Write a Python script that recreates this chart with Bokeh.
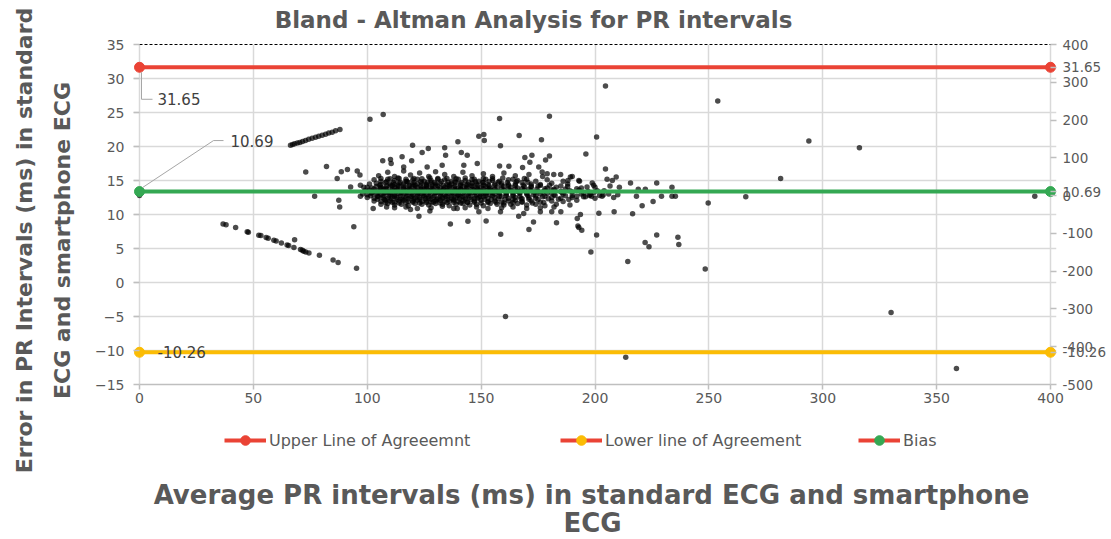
import math
from bokeh.plotting import figure
from bokeh.layouts import row, column
from bokeh.models import (Range1d, LinearAxis, SingleIntervalTicker, FixedTicker,
                          Label, Legend, LegendItem)
from bokeh.embed import file_html
from bokeh.resources import INLINE

# ---------------- data ----------------
chart_title = "Bland - Altman Analysis for PR intervals"
x_title_lines = ["Average PR intervals (ms) in standard ECG and smartphone", "ECG"]
y_title_lines = ["Error in PR Intervals (ms) in standard", "ECG and smartphone ECG"]
legend_labels = ["Upper Line of Agreeemnt", "Lower line of Agreement", "Bias"]

line_x = [0, 400]
upper_y = [31.65, 31.65]
lower_y = [-10.26, -10.26]
bias_y = [10.69, 10.69]          # plotted on the secondary (right) axis

right_ticks = [-500, -400, -300, -200, -100, 0, 100, 200, 300, 400]

# dense core of the scatter (rows)
core_x = [
    105, 109, 112, 116, 119, 123, 127, 130, 134, 138, 142, 146, 151, 155, 160, 165, 171, 177,
    103, 106, 109, 112, 114, 117, 120, 122, 125, 128, 131, 134, 137, 140, 143, 146, 149, 152, 155, 158, 162, 166, 170, 174, 179, 186,
    101, 104, 106, 108, 110, 112, 114, 116, 118, 120, 122, 124, 126, 128, 130, 132, 135, 137, 139, 141, 144, 146, 148, 151, 153, 156, 159, 162, 165, 168, 172, 176, 181, 188,
    100, 102, 104, 106, 108, 110, 112, 114, 116, 118, 120, 122, 124, 126, 128, 130, 132, 134, 136, 138, 140, 142, 144, 146, 148, 150, 152, 154, 157, 160, 163, 166, 169, 172, 175, 179, 183, 188, 194, 200,
    99, 101, 103, 105, 107, 109, 111, 113, 115, 117, 119, 121, 123, 125, 127, 129, 131, 133, 135, 137, 139, 141, 143, 145, 147, 149, 151, 153, 155, 157, 160, 163, 166, 169, 172, 175, 178, 181, 185, 189, 193, 197, 201, 204,
    98, 100, 102, 104, 106, 108, 110, 112, 114, 116, 118, 120, 122, 124, 126, 128, 130, 132, 134, 136, 138, 140, 142, 144, 146, 148, 150, 152, 154, 156, 158, 161, 164, 167, 170, 173, 176, 179, 182, 186, 190, 194, 198, 202, 206, 210,
    100, 103, 105, 107, 109, 111, 113, 115, 117, 119, 121, 123, 125, 127, 129, 131, 133, 135, 137, 139, 141, 143, 145, 147, 149, 151, 153, 156, 159, 162, 165, 168, 171, 174, 177, 181, 185, 190, 195, 200,
    103, 106, 108, 110, 112, 114, 116, 118, 120, 122, 124, 126, 128, 130, 132, 134, 136, 138, 140, 142, 144, 147, 150, 153, 156, 159, 162, 165, 168, 172, 176, 181, 186, 192,
    106, 109, 112, 115, 118, 121, 124, 127, 130, 133, 136, 139, 142, 145, 148, 151, 154, 157, 160, 163, 166, 170, 174, 178, 183, 189,
    112, 117, 122, 128, 133, 138, 143, 148, 153, 159, 164, 170, 176, 182,
]
core_y = [
    15.7, 16.2, 15.6, 16.4, 15.8, 16.1, 15.6, 16.3, 15.9, 15.6, 16.2, 15.7, 16.0, 15.6, 16.1, 15.7, 15.9, 15.6,
    15.1, 14.9, 15.2, 15.0, 15.3, 14.9, 15.1, 15.2, 14.9, 15.0, 15.3, 15.1, 14.9, 15.2, 15.0, 15.1, 14.9, 15.2, 15.0, 14.9, 15.1, 15.0, 15.2, 14.9, 15.1, 14.9,
    14.5, 14.6, 14.4, 14.7, 14.5, 14.4, 14.6, 14.5, 14.7, 14.4, 14.5, 14.6, 14.4, 14.7, 14.5, 14.6, 14.4, 14.5, 14.7, 14.5, 14.4, 14.6, 14.5, 14.7, 14.4, 14.5, 14.6, 14.4, 14.5, 14.7, 14.5, 14.4, 14.6, 14.5,
    14.0, 13.9, 14.1, 14.0, 13.9, 14.2, 14.0, 14.1, 13.9, 14.0, 14.2, 14.0, 13.9, 14.1, 14.0, 14.2, 13.9, 14.0, 14.1, 14.0, 13.9, 14.1, 14.0, 14.2, 13.9, 14.0, 14.1, 13.9, 14.0, 14.1, 14.0, 13.9, 14.1, 14.0, 14.2, 13.9, 14.0, 14.1, 13.9, 14.0,
    13.5, 13.6, 13.4, 13.5, 13.7, 13.4, 13.5, 13.6, 13.4, 13.5, 13.6, 13.5, 13.4, 13.7, 13.5, 13.6, 13.4, 13.5, 13.6, 13.4, 13.5, 13.7, 13.5, 13.4, 13.6, 13.5, 13.4, 13.6, 13.5, 13.4, 13.6, 13.5, 13.4, 13.6, 13.5, 13.4, 13.5, 13.6, 13.4, 13.5, 13.6, 13.4, 13.5, 13.5,
    13.0, 12.9, 13.1, 13.0, 12.9, 13.2, 13.0, 12.9, 13.1, 13.0, 13.2, 12.9, 13.0, 13.1, 12.9, 13.0, 13.2, 13.0, 12.9, 13.1, 13.0, 12.9, 13.1, 13.0, 13.2, 12.9, 13.0, 13.1, 12.9, 13.0, 13.1, 13.0, 12.9, 13.1, 13.0, 12.9, 13.0, 13.1, 12.9, 13.0, 12.8, 13.0, 12.9, 12.8, 13.0, 12.9,
    12.5, 12.4, 12.6, 12.5, 12.4, 12.6, 12.5, 12.3, 12.5, 12.6, 12.4, 12.5, 12.6, 12.4, 12.5, 12.3, 12.5, 12.6, 12.4, 12.5, 12.6, 12.4, 12.5, 12.3, 12.5, 12.6, 12.4, 12.5, 12.6, 12.4, 12.5, 12.3, 12.5, 12.4, 12.6, 12.5, 12.4, 12.5, 12.6, 12.4,
    12.0, 11.9, 12.1, 12.0, 11.8, 12.0, 12.1, 11.9, 12.0, 12.1, 11.9, 12.0, 11.8, 12.0, 12.1, 11.9, 12.0, 12.1, 11.9, 12.0, 11.8, 12.0, 12.1, 11.9, 12.0, 11.8, 12.0, 12.1, 11.9, 12.0, 11.8, 12.0, 11.9, 12.1,
    11.5, 11.6, 11.4, 11.5, 11.3, 11.6, 11.5, 11.4, 11.6, 11.5, 11.3, 11.5, 11.6, 11.4, 11.5, 11.3, 11.6, 11.5, 11.4, 11.5, 11.6, 11.4, 11.5, 11.3, 11.5, 11.4,
    11.0, 11.1, 10.9, 11.0, 11.2, 10.9, 11.0, 11.1, 10.9, 11.0, 11.1, 10.9, 11.0, 11.1,
]

# extra points filling the darkest part of the cloud
core_fill_pts = [
    (106, 15.3), (110, 15.25), (113.5, 15.35), (117, 15.2), (120.5, 15.3), (124, 15.25), (127.5, 15.35),
    (131, 15.2), (135, 15.3), (139, 15.25), (143, 15.35), (147, 15.2), (151, 15.3), (155, 15.25),
    (159.5, 15.35), (164, 15.2), (169, 15.3),
    (108.5, 14.8), (111.5, 14.7), (114.5, 14.75), (117.5, 14.85), (120.5, 14.7), (123.5, 14.8), (126.5, 14.75),
    (129.5, 14.7), (132.5, 14.85), (135.5, 14.75), (138.5, 14.8), (141.5, 14.7), (144.5, 14.75), (147.5, 14.8),
    (150.5, 14.7), (153.5, 14.85), (157.5, 14.75), (161.5, 14.7), (165.5, 14.8), (170.5, 14.75),
    (105.5, 14.3), (108.5, 14.2), (111, 14.25), (113.5, 14.3), (116, 14.2), (118.5, 14.25), (121, 14.3),
    (123.5, 14.2), (126, 14.25), (128.5, 14.3), (131, 14.2), (133.5, 14.25), (136, 14.3), (138.5, 14.2),
    (141, 14.25), (143.5, 14.3), (146, 14.2), (148.5, 14.25), (151, 14.3), (153.5, 14.2), (156, 14.25),
    (159, 14.3), (162, 14.2), (165, 14.25), (168.5, 14.3), (172, 14.2), (176, 14.25), (180, 14.3), (185, 14.2),
    (103, 13.75), (106, 13.8), (108.5, 13.7), (111, 13.75), (113.5, 13.8), (116, 13.7), (118.5, 13.75),
    (121, 13.8), (123.5, 13.7), (126, 13.75), (128.5, 13.8), (131, 13.7), (133.5, 13.75), (136, 13.8),
    (138.5, 13.7), (141, 13.75), (143.5, 13.8), (146, 13.7), (148.5, 13.75), (151, 13.8), (153.5, 13.7),
    (156, 13.75), (159, 13.8), (162, 13.7), (165, 13.75), (168, 13.8), (171, 13.7), (174.5, 13.75),
    (178, 13.8), (182, 13.7), (187, 13.75), (192, 13.8),
    (102, 13.25), (105, 13.3), (107.5, 13.2), (110, 13.25), (112.5, 13.3), (115, 13.2), (117.5, 13.25),
    (120, 13.3), (122.5, 13.2), (125, 13.25), (127.5, 13.3), (130, 13.2), (132.5, 13.25), (135, 13.3),
    (137.5, 13.2), (140, 13.25), (142.5, 13.3), (145, 13.2), (147.5, 13.25), (150, 13.3), (152.5, 13.2),
    (155, 13.25), (158, 13.3), (161, 13.2), (164, 13.25), (167, 13.3), (170, 13.2), (173.5, 13.25),
    (177, 13.3), (181, 13.2), (185.5, 13.25), (190, 13.3), (195, 13.2), (199.5, 13.25),
    (101.5, 12.75), (104.5, 12.7), (107, 12.8), (109.5, 12.75), (112, 12.7), (114.5, 12.8), (117, 12.75),
    (119.5, 12.7), (122, 12.8), (124.5, 12.75), (127, 12.7), (129.5, 12.8), (132, 12.75), (134.5, 12.7),
    (137, 12.8), (139.5, 12.75), (142, 12.7), (144.5, 12.8), (147, 12.75), (149.5, 12.7), (152, 12.8),
    (155, 12.75), (158, 12.7), (161, 12.8), (164, 12.75), (167, 12.7), (170.5, 12.8), (174, 12.75),
    (178, 12.7), (182.5, 12.8), (187, 12.75), (192, 12.7), (197.5, 12.8),
    (104.5, 12.25), (107.5, 12.2), (110.5, 12.3), (113, 12.25), (115.5, 12.2), (118, 12.3), (120.5, 12.25),
    (123, 12.2), (125.5, 12.3), (128, 12.25), (130.5, 12.2), (133, 12.3), (135.5, 12.25), (138, 12.2),
    (140.5, 12.3), (143, 12.25), (145.5, 12.2), (148.5, 12.3), (151.5, 12.25), (154.5, 12.2), (157.5, 12.3),
    (160.5, 12.25), (164, 12.2), (167.5, 12.3), (171, 12.25), (175, 12.2), (179.5, 12.3), (184, 12.25),
    (188.5, 12.2),
    (108, 11.75), (111, 11.8), (114, 11.7), (117, 11.75), (120, 11.8), (123, 11.7), (126, 11.75),
    (129, 11.8), (132, 11.7), (135, 11.75), (138, 11.8), (141, 11.7), (144, 11.75), (147, 11.8),
    (150, 11.7), (153, 11.75), (156.5, 11.8), (160, 11.7), (164, 11.75), (168, 11.8), (172.5, 11.7),
    (177.5, 11.75),
]

# scattered points around the core
outlier_pts = [
    (0, 12.8),
    (73.0, 16.25), (82.1, 17.05), (76.9, 12.7), (86.8, 15.3), (88.6, 16.3), (91.3, 16.6),
    (95.6, 16.4), (96.8, 15.8), (92.7, 14.05), (87.5, 12.1), (87.9, 11.1), (98.5, 14.0),
    (97.0, 12.7), (102.6, 10.9), (108.5, 11.1), (94.1, 8.2), (95.3, 2.1), (97.0, 14.3),
    (101.2, 24.0), (107.0, 24.7), (158.1, 24.1), (180.0, 24.45), (204.6, 28.9),
    (149.0, 21.5), (151.2, 21.75), (151.4, 20.9), (166.7, 21.6), (176.5, 21.0), (200.7, 21.4),
    (119.9, 20.2), (139.8, 20.7), (158.5, 20.1), (126.8, 19.7), (134.0, 19.8), (196.0, 18.9),
    (124.1, 19.1), (141.3, 19.1), (143.9, 18.7), (134.4, 18.7), (115.3, 18.5),
    (180.0, 18.6), (178.3, 18.0), (172.3, 18.7), (171.4, 17.7), (169.2, 18.4), (168.2, 16.9),
    (106.8, 17.9), (110.2, 18.1), (119.5, 17.9), (110.5, 17.5), (116.0, 17.0), (126.3, 17.0),
    (132.9, 17.25), (142.4, 17.25), (148.3, 17.5), (158.1, 17.15), (162.2, 17.1), (175.3, 17.0),
    (176.8, 16.25), (179.0, 16.0), (181.9, 15.9), (184.9, 15.9), (189.2, 15.5), (190.0, 15.6),
    (188.1, 15.0), (192.9, 15.0), (193.2, 14.9), (198.8, 14.65), (196.5, 14.05), (199.4, 14.3),
    (204.6, 16.7), (205.3, 15.2), (209.3, 15.5), (207.6, 15.0), (215.6, 14.65), (227.1, 14.65),
    (233.8, 14.0), (219.0, 13.7), (222.1, 13.7), (210.7, 14.0), (206.6, 14.2),
    (229.2, 12.7), (233.8, 12.7), (235.3, 12.7), (218.2, 12.7), (208.2, 12.5), (203.6, 12.85),
    (195.8, 12.6), (198.5, 12.7), (203.1, 12.7), (266.2, 12.6), (249.7, 11.7), (225.5, 11.9),
    (220.7, 11.3), (208.4, 10.4), (216.5, 10.1), (201.7, 10.2), (193.6, 10.0), (192.2, 9.4),
    (192.5, 8.3), (194.2, 7.7), (200.7, 7.0), (227.1, 7.0), (236.4, 6.65), (236.8, 5.6),
    (222.0, 5.9), (223.7, 5.25), (198.2, 4.5), (214.4, 3.1), (248.4, 2.0), (213.5, -11.0),
    (158.6, 7.1), (171.0, 7.8), (173.0, 8.9), (136.5, 8.6), (144.2, 9.0), (152.2, 9.05),
    (122.7, 9.75), (119.0, 10.75), (127.5, 10.5), (139.5, 10.9), (149.0, 10.4), (158.5, 10.4),
    (166.5, 9.75), (168.7, 10.15), (176.0, 10.4), (181.0, 10.4), (185.0, 10.4), (183.1, 8.8),
    (192.9, 8.1),
    (253.9, 26.7), (293.9, 20.8), (316.1, 19.8), (281.5, 15.3), (160.7, -5.0), (330.0, -4.4),
    (358.7, -12.65), (393.1, 12.7),
]

# two diagonal streaks on the left
upper_streak_x = [66.3, 67.2, 68.1, 69.3, 70.4, 71.6, 72.9, 74.3, 75.8, 77.3, 78.7, 80.2, 81.7, 83.1, 84.6, 86.1, 88.0]
upper_streak_y = [20.2, 20.3, 20.4, 20.5, 20.6, 20.75, 20.9, 21.05, 21.2, 21.35, 21.5, 21.65, 21.8, 22.0, 22.1, 22.3, 22.5]
lower_streak_x = [36.7, 38.0, 42.2, 47.3, 47.8, 52.4, 53.3, 55.6, 56.5, 59.0, 60.0, 62.3, 64.8, 65.5, 67.8, 68.1, 70.7, 71.5, 72.1, 73.0, 74.4, 79.0, 85.0, 87.2]
lower_streak_y = [8.6, 8.5, 8.1, 7.45, 7.4, 6.95, 6.9, 6.6, 6.5, 6.2, 6.1, 5.8, 5.5, 5.45, 5.15, 6.3, 4.85, 4.75, 4.6, 4.5, 4.35, 4.0, 3.3, 2.95]

scatter_x = (core_x + [q[0] for q in core_fill_pts] + [q[0] for q in outlier_pts]
             + upper_streak_x + lower_streak_x)
scatter_y = (core_y + [q[1] for q in core_fill_pts] + [q[1] for q in outlier_pts]
             + upper_streak_y + lower_streak_y)
assert len(scatter_x) == len(scatter_y)

# ---------------- style / layout ----------------
FONT = "DejaVu Sans"
TXT = "#595959"
LBL = "#404040"
AXC = "#bfbfbf"
GRID = "#d9d9d9"
RED, YELLOW, GREEN = "#EA4335", "#FBBC04", "#34A853"

TOTAL_W, TOTAL_H = 1110, 538
LEFT_W = 76                       # strip holding the vertical axis title
TOP_H = 33                        # strip holding the chart title
RIGHT_W = TOTAL_W - LEFT_W
DATA_W, DATA_H = 911, 340         # px spanned by x 0..400 and y -15..35
PAD = 6                           # frame extends 6px past x=0 / x=400 so end markers stay whole
FRAME_W = DATA_W + 2 * PAD
X0_PAGE, YTOP_PAGE = 139, 44      # page position of x=0 and y=35
FRAME_L_PAGE = X0_PAGE - PAD
FRAME_R_PAGE = FRAME_L_PAGE + FRAME_W
MB_LEFT = FRAME_L_PAGE - LEFT_W
MB_TOP = YTOP_PAGE - TOP_H
MB_BOTTOM = 28
MB_RIGHT = RIGHT_W - MB_LEFT - FRAME_W
MAIN_H = MB_TOP + DATA_H + MB_BOTTOM
BOTTOM_TOP_PAGE = TOP_H + MAIN_H
BOTTOM_H = TOTAL_H - BOTTOM_TOP_PAGE

XMIN, XMAX = 0, 400
YMIN, YMAX = -15, 35
RMIN, RMAX = -500, 400
PX_X = DATA_W / (XMAX - XMIN)
PX_Y = DATA_H / (YMAX - YMIN)
PX_R = DATA_H / (RMAX - RMIN)


def to_right(v):
    return round(RMIN + (v - YMIN) * (RMAX - RMIN) / (YMAX - YMIN), 6)


def fmt(v):
    return f"{v:.2f}"


# ---------------- main plot ----------------
p = figure(frame_width=FRAME_W, frame_height=DATA_H,
           x_range=Range1d(XMIN - PAD / PX_X, XMAX + PAD / PX_X),
           y_range=Range1d(YMIN, YMAX), title=None,
           output_backend="svg", toolbar_location=None,
           min_border_left=MB_LEFT, min_border_right=MB_RIGHT,
           min_border_top=MB_TOP, min_border_bottom=MB_BOTTOM)
p.extra_y_ranges = {"right": Range1d(RMIN, RMAX)}
p.outline_line_color = None
p.background_fill_color = "white"
p.border_fill_color = "white"

p.xgrid.grid_line_color = GRID
p.xgrid.grid_line_width = 1.5
p.ygrid.grid_line_color = GRID
p.ygrid.grid_line_width = 1.5


def style_axis(ax, size="14px"):
    ax.major_label_text_font = FONT
    ax.major_label_text_font_size = size
    ax.major_label_text_color = TXT
    ax.major_tick_line_color = AXC
    ax.major_tick_line_width = 1.5
    ax.minor_tick_line_color = None
    ax.minor_tick_out = 0
    ax.minor_tick_in = 0


xa = p.xaxis[0]
xa.ticker = SingleIntervalTicker(interval=50, num_minor_ticks=0)
xa.bounds = (XMIN, XMAX)
style_axis(xa)
xa.axis_line_color = AXC
xa.axis_line_width = 1.5
xa.major_tick_out = 5
xa.major_tick_in = 0
xa.major_label_standoff = 3

ya = p.yaxis[0]
ya.ticker = SingleIntervalTicker(interval=5, num_minor_ticks=0)
style_axis(ya)
ya.axis_line_color = None
ya.major_tick_in = PAD
ya.major_tick_out = 0
ya.major_label_standoff = 9

# right axis: its ticks plus the end-of-line value labels of the three lines
r_label_ticks = {to_right(upper_y[1]): fmt(upper_y[1]),
                 bias_y[1]: fmt(bias_y[1]),
                 to_right(lower_y[1]): fmt(lower_y[1])}
r_overrides = {t: str(t) for t in right_ticks}
r_overrides.update(r_label_ticks)
ra = LinearAxis(y_range_name="right",
                ticker=FixedTicker(ticks=right_ticks + list(r_label_ticks.keys())),
                major_label_overrides=r_overrides)
style_axis(ra, "13.5px")
ra.axis_line_color = None
ra.major_tick_in = PAD
ra.major_tick_out = 0
ra.major_label_standoff = 6
p.add_layout(ra, "right")

ta = LinearAxis(ticker=FixedTicker(ticks=[]), bounds=(XMIN, XMAX))
ta.axis_line_color = "black"
ta.axis_line_dash = "3 2"
ta.axis_line_width = 1
ta.major_tick_out = 0
ta.minor_tick_out = 0
ta.major_label_text_font_size = "10px"
p.add_layout(ta, "above")

p.scatter(scatter_x, scatter_y, size=5.5, fill_color="black", fill_alpha=0.7, line_color=None)

r_up_line = p.line(line_x, upper_y, line_color=RED, line_width=4)
r_up_pts = p.scatter(line_x, upper_y, size=10, fill_color=RED, line_color=RED)
r_lo_line = p.line(line_x, lower_y, line_color=YELLOW, line_width=4)
r_lo_pts = p.scatter(line_x, lower_y, size=10, fill_color=YELLOW, line_color=YELLOW)
r_bi_line = p.line(line_x, bias_y, line_color=GREEN, line_width=4, y_range_name="right")
r_bi_pts = p.scatter(line_x, bias_y, size=10, fill_color=GREEN, line_color=GREEN, y_range_name="right")

# leader lines of the left-hand value labels
p.line([XMIN + 2 / PX_X, XMIN + 2 / PX_X, XMIN + 13 / PX_X],
       [upper_y[0] - 5 / PX_Y, upper_y[0] - 32 / PX_Y, upper_y[0] - 32 / PX_Y],
       line_color="#a6a6a6", line_width=1)
p.line([XMIN + 3 / PX_X, XMIN + 74 / PX_X, XMIN + 84 / PX_X],
       [bias_y[0] + 4 / PX_R, bias_y[0] + 51 / PX_R, bias_y[0] + 51 / PX_R],
       line_color="#a6a6a6", line_width=1, y_range_name="right")


def data_label(x, y, text, dx, dy, rng="default"):
    p.add_layout(Label(x=x, y=y, text=text, x_offset=dx, y_offset=dy, y_range_name=rng,
                       text_font=FONT, text_font_size="15px", text_color=LBL,
                       text_align="left", text_baseline="middle"))


data_label(line_x[0], upper_y[0], fmt(upper_y[0]), 18, -32)
data_label(line_x[0], bias_y[0], fmt(bias_y[0]), 91, 51, "right")
data_label(line_x[0], lower_y[0], fmt(lower_y[0]), 18, 0)


# ---------------- text strips (coordinates = page pixels) ----------------
def strip_fig(top_page, height):
    # frame lined up with the main plot's frame; x and y read as page pixels
    f = figure(frame_width=FRAME_W, frame_height=height,
               x_range=Range1d(FRAME_L_PAGE, FRAME_R_PAGE),
               y_range=Range1d(top_page + height, top_page),
               x_axis_type=None, y_axis_type=None, title=None,
               toolbar_location=None, output_backend="svg",
               min_border_left=MB_LEFT, min_border_right=MB_RIGHT,
               min_border_top=0, min_border_bottom=0)
    f.outline_line_color = None
    f.background_fill_color = "white"
    f.border_fill_color = "white"
    return f


def title_label(f, x, y, text, size, angle=0.0):
    f.add_layout(Label(x=x, y=y, text=text, angle=angle, text_font=FONT, text_font_style="bold",
                       text_font_size=size, text_color=TXT, text_align="center",
                       text_baseline="middle"))


top = strip_fig(0, TOP_H)
title_label(top, 533, 19, chart_title, "23px")

left = figure(width=LEFT_W, height=TOTAL_H, x_range=Range1d(0, LEFT_W), y_range=Range1d(TOTAL_H, 0),
              x_axis_type=None, y_axis_type=None, title=None,
              toolbar_location=None, output_backend="svg", min_border=0)
left.outline_line_color = None
left.background_fill_color = "white"
left.border_fill_color = "white"
title_label(left, 23.5, 240, y_title_lines[0], "22px", math.pi / 2)
title_label(left, 61.5, 240, y_title_lines[1], "22px", math.pi / 2)

bottom = strip_fig(BOTTOM_TOP_PAGE, BOTTOM_H)
title_label(bottom, 591, 494, x_title_lines[0], "26px")
title_label(bottom, 592, 522, x_title_lines[1], "26px")

# legend: every entry shows the red line with its own coloured dot
# (hidden copies of the agreement-line glyphs provide the legend swatches)
leg_line = bottom.line(line_x, upper_y, line_color=RED, line_width=4, visible=False)
leg_dots = [bottom.scatter(line_x, ys, size=10, fill_color=c, line_color=c, visible=False)
            for ys, c in ((upper_y, RED), (lower_y, YELLOW), (bias_y, GREEN))]
leg_left_page = [224, 560, 858]
leg_center_page = 440
for lab, dot, lx in zip(legend_labels, leg_dots, leg_left_page):
    lg = Legend(items=[LegendItem(label=lab, renderers=[leg_line, dot])],
                location=(lx - FRAME_L_PAGE, TOTAL_H - leg_center_page - 12),
                orientation="horizontal")
    lg.label_text_font = FONT
    lg.label_text_font_size = "16px"
    lg.label_text_color = TXT
    lg.glyph_width = 42
    lg.glyph_height = 24
    lg.label_standoff = 3
    lg.padding = 0
    lg.margin = 0
    lg.border_line_color = None
    lg.background_fill_alpha = 0
    lg.inactive_fill_alpha = 0
    bottom.add_layout(lg, "center")

layout = row(left, column(top, p, bottom))

open("out.html", "w").write(file_html(layout, INLINE))
